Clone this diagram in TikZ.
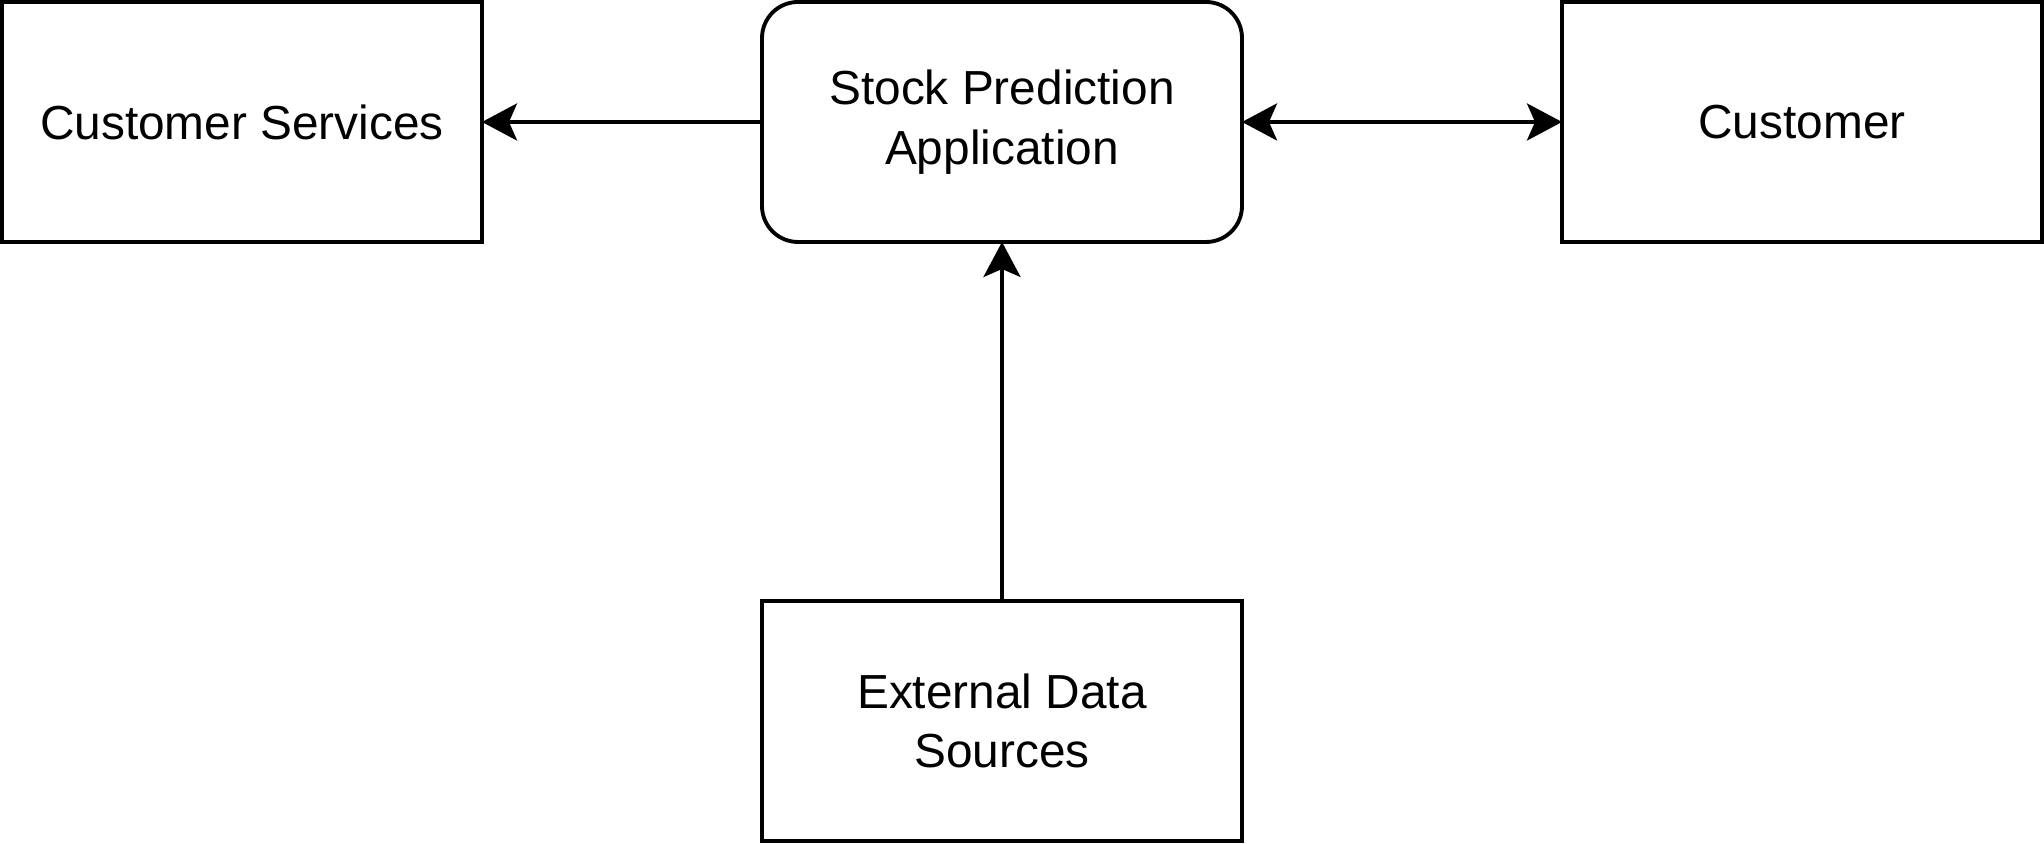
\documentclass[tikz,border=0pt]{standalone}
\usepackage{fontspec}
\setmainfont{Liberation Sans}
\usetikzlibrary{arrows.meta}
\tikzstyle{diagram}=[line width=1.1pt, draw=black]
\tikzstyle{actor}=[rectangle, draw, line width=1.1pt, fill=white, minimum width=4.8cm, minimum height=2.4cm, align=center, outer sep=0pt, font=\fontsize{13.6}{17}\selectfont]
\tikzstyle{app}=[actor, rounded corners=0.36cm]
\tikzstyle{flow}=[-{Stealth[length=0.35cm, width=0.37cm, inset=0.08cm]}, line width=1.1pt]
\tikzstyle{dflow}=[{Stealth[length=0.35cm, width=0.37cm, inset=0.08cm]}-{Stealth[length=0.35cm, width=0.37cm, inset=0.08cm]}, line width=1.1pt]
\begin{document}
\begin{tikzpicture}[diagram]
				\useasboundingbox (0,0) rectangle (20.44,8.44);
				
				%The top row
				\draw (2.42,7.22) node[actor] (cs) {Customer Services};
				\draw (10.02,7.22) node[app] (spa) {Stock Prediction\\Application};
				\draw (18.02,7.22) node[actor] (cust) {Customer};
				
				%The data source
				\draw (10.02,1.23) node[actor] (eds) {External Data\\Sources};
				
				\draw[flow] (spa) -- (cs);
				\draw[dflow] (spa) -- (cust);
				\draw[flow] (eds) -- (spa);
			\end{tikzpicture}
\end{document}
